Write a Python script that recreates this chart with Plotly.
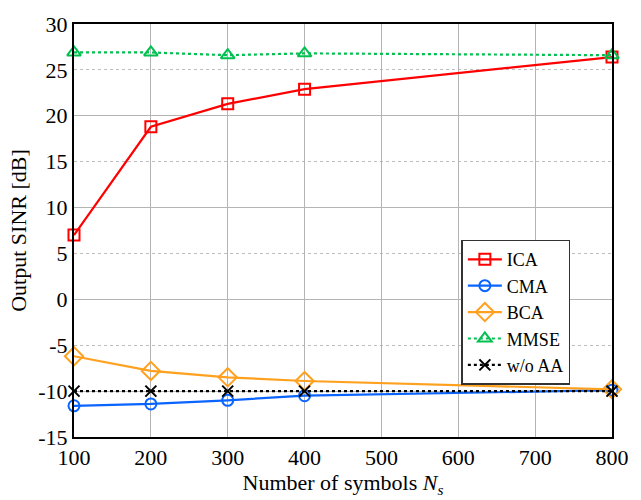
import plotly.graph_objects as go

# Number of symbols
ns = [100, 200, 300, 400, 800]

# Output SINR [dB] per method
sinr_ica = [7.0, 18.8, 21.3, 22.9, 26.4]
sinr_cma = [-11.6, -11.4, -11.0, -10.5, -9.9]
sinr_bca = [-6.2, -7.8, -8.5, -8.9, -9.8]
sinr_mmse = [26.9, 26.9, 26.6, 26.8, 26.6]
sinr_woaa = [-10.0, -10.0, -10.0, -10.0, -10.0]

y_ticks = [-15, -10, -5, 0, 5, 10, 15, 20, 25, 30]
y_major_grid = [-10, 0, 10, 20]
y_minor_grid = [-5, 5, 15, 25]
x_ticks = [100, 200, 300, 400, 500, 600, 700, 800]

series = [
    ("ICA", sinr_ica, "#ff0000", "square-open", "solid", 11),
    ("CMA", sinr_cma, "#0a64ff", "circle-open", "solid", 11),
    ("BCA", sinr_bca, "#ffa01e", "diamond-open", "solid", 14),
    ("MMSE", sinr_mmse, "#00c050", "triangle-up-open", "dot", 12),
    ("w/o AA", sinr_woaa, "#000000", "x-thin-open", "dot", 11),
]

fig = go.Figure()

# empty trace that brings the solid-grid overlay axis to life
fig.add_trace(go.Scatter(x=[], y=[], yaxis="y2", showlegend=False,
                         hoverinfo="skip"))

for name, vals, color, symbol, dash, size in series:
    fig.add_trace(go.Scatter(
        x=ns, y=vals, name=name, mode="lines+markers",
        line=dict(color=color, width=2.2, dash=dash),
        marker=dict(symbol=symbol, size=size, color=color,
                    line=dict(color=color, width=2)),
        cliponaxis=False,
    ))

font_family = "Liberation Serif, Times New Roman, serif"
fs = 22

fig.update_layout(
    width=641, height=500,
    margin=dict(l=74, r=18, t=14, b=59),
    paper_bgcolor="white", plot_bgcolor="white",
    font=dict(family=font_family, size=fs, color="black"),
    showlegend=True,
    legend=dict(
        x=0.72, y=0.478, xanchor="left", yanchor="top",
        bgcolor="white", bordercolor="#333333", borderwidth=1.5,
        font=dict(family=font_family, size=18, color="black"),
        tracegroupgap=0, itemwidth=34,
    ),
    xaxis=dict(
        range=[100, 800], tickvals=x_ticks, ticks="",
        showgrid=True, gridcolor="#b4b4b4", gridwidth=1.3,
        showline=True, linecolor="black", linewidth=2, mirror=True,
        zeroline=False,
        title=dict(text="Number of symbols <i>N</i><sub><i>s</i></sub>",
                   standoff=2, font=dict(size=fs)),
        tickfont=dict(size=fs),
    ),
    yaxis=dict(
        range=[-15, 30], tickvals=y_ticks,
        ticktext=[str(v) for v in y_ticks], ticks="",
        showgrid=False,
        minor=dict(tickvals=y_minor_grid, showgrid=True,
                   gridcolor="#bdbdbd", gridwidth=1.2, griddash="dot"),
        showline=True, linecolor="black", linewidth=2, mirror=True,
        zeroline=False,
        title=dict(text="Output SINR [dB]", standoff=6, font=dict(size=fs)),
        tickfont=dict(size=fs),
    ),
    yaxis2=dict(
        range=[-15, 30], overlaying="y", side="left",
        tickvals=y_major_grid, showticklabels=False, ticks="",
        showgrid=True, gridcolor="#b4b4b4", gridwidth=1.3,
        zeroline=False, showline=False,
    ),
)

fig.write_html("out.html")
